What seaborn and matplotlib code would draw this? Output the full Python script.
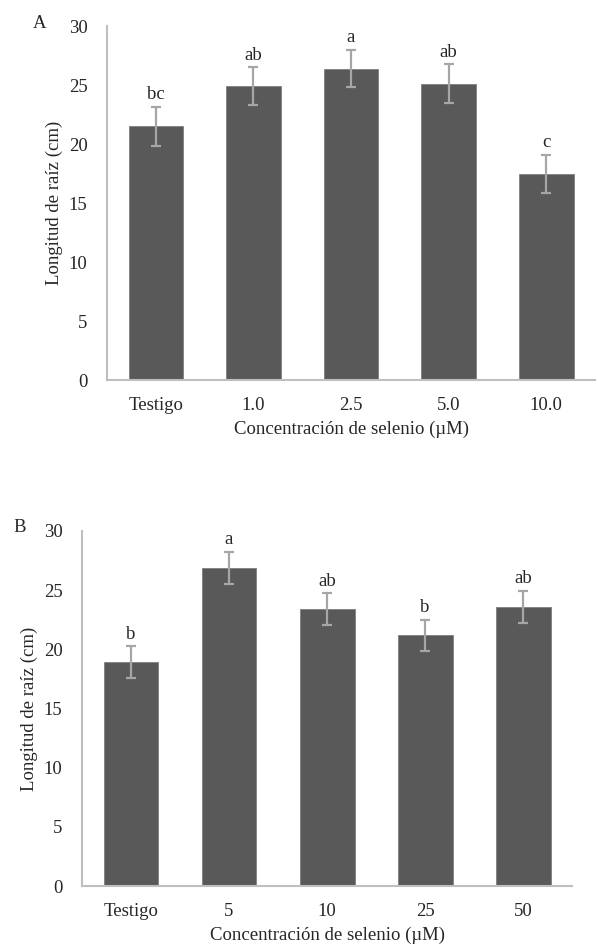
import matplotlib
matplotlib.use("Agg")
import matplotlib.pyplot as plt
import seaborn as sns
import pandas as pd
import numpy as np

# Panel A data
cats_a = ["Testigo", "1.0", "2.5", "5.0", "10.0"]
vals_a = [21.5, 24.9, 26.4, 25.1, 17.5]
errs_a = [1.65, 1.6, 1.6, 1.65, 1.6]
letters_a = ["bc", "ab", "a", "ab", "c"]

# Panel B data
cats_b = ["Testigo", "5", "10", "25", "50"]
vals_b = [18.9, 26.9, 23.4, 21.2, 23.6]
errs_b = [1.35, 1.35, 1.35, 1.3, 1.35]
letters_b = ["b", "a", "ab", "b", "ab"]

yticks = [0, 5, 10, 15, 20, 25, 30]

sns.set_theme(style="white")
plt.rcParams["font.family"] = ["Liberation Serif", "DejaVu Serif"]
FS = 13.5
plt.rcParams["font.size"] = FS

fig = plt.figure(figsize=(5.98, 9.46), dpi=100)
ax_a = fig.add_axes([0.179, 0.598, 0.816, 0.3745])
ax_b = fig.add_axes([0.137, 0.0634, 0.82, 0.3753])

bar_color = "#595959"
err_color = "#a6a6a6"
axis_color = "#bfbfbf"


def draw(ax, cats, vals, errs, letters, panel, px, py):
    df = pd.DataFrame({"cat": cats, "val": vals})
    sns.barplot(data=df, x="cat", y="val", color=bar_color, width=0.56,
                saturation=1, ax=ax, errorbar=None, edgecolor="#7f7f7f",
                linewidth=0.6)
    xs = np.arange(len(cats))
    ax.errorbar(xs, vals, yerr=errs, fmt="none", ecolor=err_color,
                elinewidth=1.6, capsize=3.5, capthick=1.6)
    for x, v, e, t in zip(xs, vals, errs, letters):
        ax.text(x, v + e + 0.3, t, ha="center", va="bottom", fontsize=FS)
    ax.set_xlim(-0.5, len(cats) - 0.5)
    ax.set_ylim(0, 30)
    ax.set_yticks(yticks)
    ax.set_yticklabels([str(t) for t in yticks], fontsize=FS)
    ax.tick_params(axis="y", length=0, pad=14)
    ax.tick_params(axis="x", which="major", length=0, pad=12, labelsize=FS)
    ax.set_xticks(np.arange(-0.5, len(cats), 1.0), minor=True)
    ax.tick_params(axis="x", which="minor", length=5, width=1.2,
                   color=axis_color, direction="out")
    for s in ["top", "right"]:
        ax.spines[s].set_visible(False)
    for s in ["left", "bottom"]:
        ax.spines[s].set_color(axis_color)
        ax.spines[s].set_linewidth(1.5)
    ax.set_ylabel("Longitud de raíz (cm)", fontsize=FS, labelpad=4)
    ax.set_xlabel("Concentración de selenio (µM)", fontsize=FS, labelpad=5)
    fig.text(px, py, panel, fontsize=FS, ha="left", va="center")


draw(ax_a, cats_a, vals_a, errs_a, letters_a, "A", 0.055, 1 - 24 / 946)
draw(ax_b, cats_b, vals_b, errs_b, letters_b, "B", 0.022, 1 - 527 / 946)

fig.savefig("out.png", dpi=100)
